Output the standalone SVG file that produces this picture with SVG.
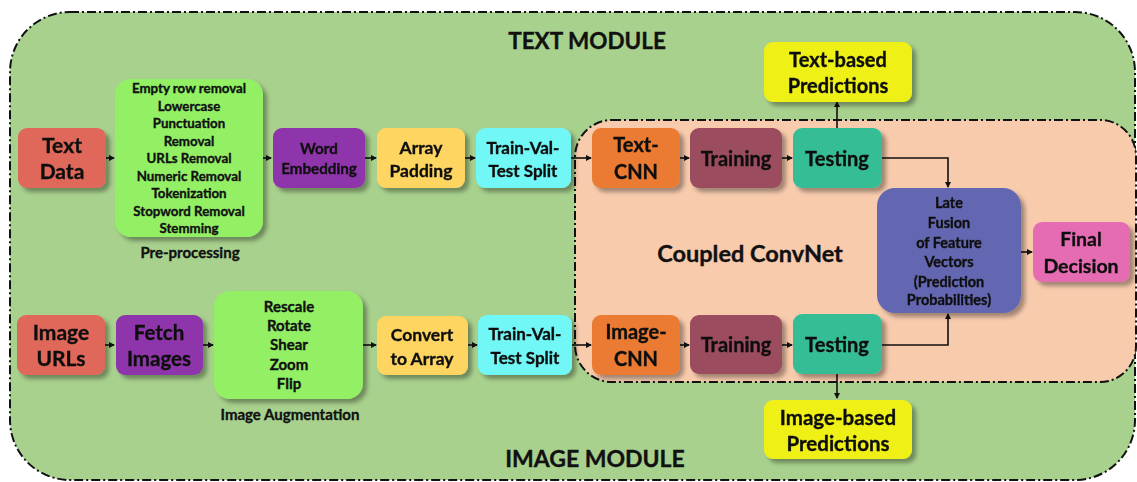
<svg xmlns="http://www.w3.org/2000/svg" width="1137" height="482" viewBox="0 0 1137 482">
<defs>
<filter id="sh" x="-20%" y="-20%" width="150%" height="150%">
<feDropShadow dx="4" dy="4" stdDeviation="2" flood-color="#000" flood-opacity="0.35"/>
</filter>
<marker id="ah" markerWidth="6" markerHeight="6" refX="5" refY="3" orient="auto" markerUnits="userSpaceOnUse">
<path d="M0,0 L6,3 L0,6 Z" fill="#111"/>
</marker>
</defs>
<style>
text{font-family:Lato,"Open Sans","Liberation Sans",sans-serif;font-weight:bold;fill:#111;stroke:#111;stroke-width:0.35;text-anchor:middle}
.n{filter:url(#sh)}
.c line,.c path{stroke:#111;stroke-width:1.6;fill:none;marker-end:url(#ah)}
.dash{stroke:#111;stroke-width:2;stroke-dasharray:9,3,2,3}
</style>
<rect width="1137" height="482" fill="#fff"/>
<g id="text-module">
<path class="dash" d="M70,12 H1075 A60,60 0 0 1 1135,72 V420 A60,60 0 0 1 1075,480 H70 A60,60 0 0 1 10,420 V72 A60,60 0 0 1 70,12 Z" fill="#a8d18d"/>
<text x="587" y="49" font-size="22.5">TEXT MODULE</text>
<text x="595" y="467" font-size="23">IMAGE MODULE</text>
</g>
<g id="coupled-convnet">
<path class="dash" d="M612,120 H1100 A36,36 0 0 1 1136,156 V346 A36,36 0 0 1 1100,382 H612 A37,37 0 0 1 575,345 V157 A37,37 0 0 1 612,120 Z" fill="#f8cbad"/>
<text x="750" y="262" font-size="23.5">Coupled ConvNet</text>
</g>
<g class="c" id="connectors">
<line x1="106" y1="158" x2="114" y2="158"/>
<line x1="263" y1="158" x2="271" y2="158"/>
<line x1="365" y1="158" x2="376" y2="158"/>
<line x1="465" y1="158" x2="475" y2="158"/>
<line x1="571" y1="158" x2="591" y2="158"/>
<line x1="680" y1="158" x2="689" y2="158"/>
<line x1="782" y1="158" x2="792" y2="158"/>
<line x1="837" y1="128" x2="837" y2="102"/>
<path d="M882,158 H948 V187"/>
<line x1="105" y1="345" x2="114" y2="345"/>
<line x1="203" y1="345" x2="213" y2="345"/>
<line x1="363" y1="345" x2="376" y2="345"/>
<line x1="468" y1="345" x2="477" y2="345"/>
<line x1="572" y1="345" x2="591" y2="345"/>
<line x1="680" y1="345" x2="689" y2="345"/>
<line x1="782" y1="345" x2="792" y2="345"/>
<line x1="837" y1="374" x2="837" y2="398"/>
<path d="M882,345 H948 V314"/>
<line x1="1021" y1="252" x2="1032" y2="252"/>
</g>
<g id="text-data" class="n"><rect x="18" y="128" width="88" height="60" rx="9" fill="#e0675a"/>
<text x="62" y="153" font-size="21">Text</text><text x="62" y="179" font-size="21">Data</text></g>
<g id="pre-processing"><rect class="n" x="115" y="79" width="148" height="158" rx="16" fill="#93f065"/>
<g font-size="13.3"><text x="189" y="93">Empty row removal</text><text x="189" y="110.5">Lowercase</text><text x="189" y="128">Punctuation</text><text x="189" y="145.5">Removal</text><text x="189" y="163">URLs Removal</text><text x="189" y="180.5">Numeric Removal</text><text x="189" y="198">Tokenization</text><text x="189" y="215.5">Stopword Removal</text><text x="189" y="233">Stemming</text></g>
<text x="190" y="258" font-size="15">Pre-processing</text></g>
<g id="word-embedding" class="n"><rect x="273" y="128" width="92" height="60" rx="9" fill="#8f34ab"/>
<text x="319" y="154" font-size="15.2">Word</text><text x="319" y="174" font-size="15.2">Embedding</text></g>
<g id="array-padding" class="n"><rect x="377" y="128" width="88" height="60" rx="9" fill="#fdd561"/>
<text x="421" y="154" font-size="17.5">Array</text><text x="421" y="177" font-size="17.5">Padding</text></g>
<g id="split-text" class="n"><rect x="476" y="128" width="95" height="60" rx="9" fill="#70f7f6"/>
<text x="523" y="154" font-size="17">Train-Val-</text><text x="523" y="177" font-size="17">Test Split</text></g>
<g id="text-cnn" class="n"><rect x="592" y="128" width="88" height="60" rx="9" fill="#eb7a32"/>
<text x="636" y="152" font-size="20">Text-</text><text x="636" y="179" font-size="20">CNN</text></g>
<g id="training-text" class="n"><rect x="690" y="128" width="92" height="60" rx="9" fill="#9b4d5f"/>
<text x="736" y="166" font-size="20">Training</text></g>
<g id="testing-text" class="n"><rect x="793" y="128" width="89" height="60" rx="9" fill="#36bd96"/>
<text x="837" y="166" font-size="20">Testing</text></g>
<g id="text-predictions" class="n"><rect x="764" y="42" width="148" height="60" rx="9" fill="#eff015"/>
<text x="838" y="67" font-size="20">Text-based</text><text x="838" y="93" font-size="20">Predictions</text></g>
<g id="late-fusion" class="n"><rect x="877" y="188" width="144" height="125" rx="18" fill="#6466b0"/>
<g font-size="14.5"><text x="949" y="208">Late</text><text x="949" y="228">Fusion</text><text x="949" y="247.5">of Feature</text><text x="949" y="267">Vectors</text><text x="949" y="286.5">(Prediction</text><text x="949" y="305">Probabilities)</text></g></g>
<g id="final-decision" class="n"><rect x="1033" y="222" width="97" height="60" rx="9" fill="#e56cb2"/>
<text x="1081" y="246" font-size="19.5">Final</text><text x="1081" y="273" font-size="19.5">Decision</text></g>
<g id="image-urls" class="n"><rect x="17" y="315" width="88" height="60" rx="9" fill="#e0675a"/>
<text x="61" y="340" font-size="21">Image</text><text x="61" y="366" font-size="21">URLs</text></g>
<g id="fetch-images" class="n"><rect x="116" y="315" width="87" height="60" rx="9" fill="#8f34ab"/>
<text x="159" y="340" font-size="20.5">Fetch</text><text x="159" y="366" font-size="20.5">Images</text></g>
<g id="image-augmentation"><rect class="n" x="214" y="291" width="149" height="108" rx="16" fill="#93f065"/>
<g font-size="15"><text x="289" y="312">Rescale</text><text x="289" y="331">Rotate</text><text x="289" y="350">Shear</text><text x="289" y="369.5">Zoom</text><text x="289" y="389">Flip</text></g>
<text x="290" y="420" font-size="15">Image Augmentation</text></g>
<g id="convert-array" class="n"><rect x="377" y="316" width="91" height="59" rx="9" fill="#fdd561"/>
<text x="422" y="341" font-size="17.5">Convert</text><text x="422" y="365" font-size="17.5">to Array</text></g>
<g id="split-image" class="n"><rect x="478" y="315" width="94" height="60" rx="9" fill="#70f7f6"/>
<text x="525" y="340" font-size="17">Train-Val-</text><text x="525" y="364" font-size="17">Test Split</text></g>
<g id="image-cnn" class="n"><rect x="592" y="315" width="88" height="60" rx="9" fill="#eb7a32"/>
<text x="636" y="339" font-size="20">Image-</text><text x="636" y="366" font-size="20">CNN</text></g>
<g id="training-image" class="n"><rect x="690" y="315" width="92" height="59" rx="9" fill="#9b4d5f"/>
<text x="736" y="352" font-size="20">Training</text></g>
<g id="testing-image" class="n"><rect x="793" y="314" width="89" height="60" rx="9" fill="#36bd96"/>
<text x="837" y="352" font-size="20">Testing</text></g>
<g id="image-predictions" class="n"><rect x="764" y="400" width="148" height="59" rx="9" fill="#eff015"/>
<text x="838" y="425" font-size="20.5">Image-based</text><text x="838" y="451" font-size="20.5">Predictions</text></g>
</svg>
